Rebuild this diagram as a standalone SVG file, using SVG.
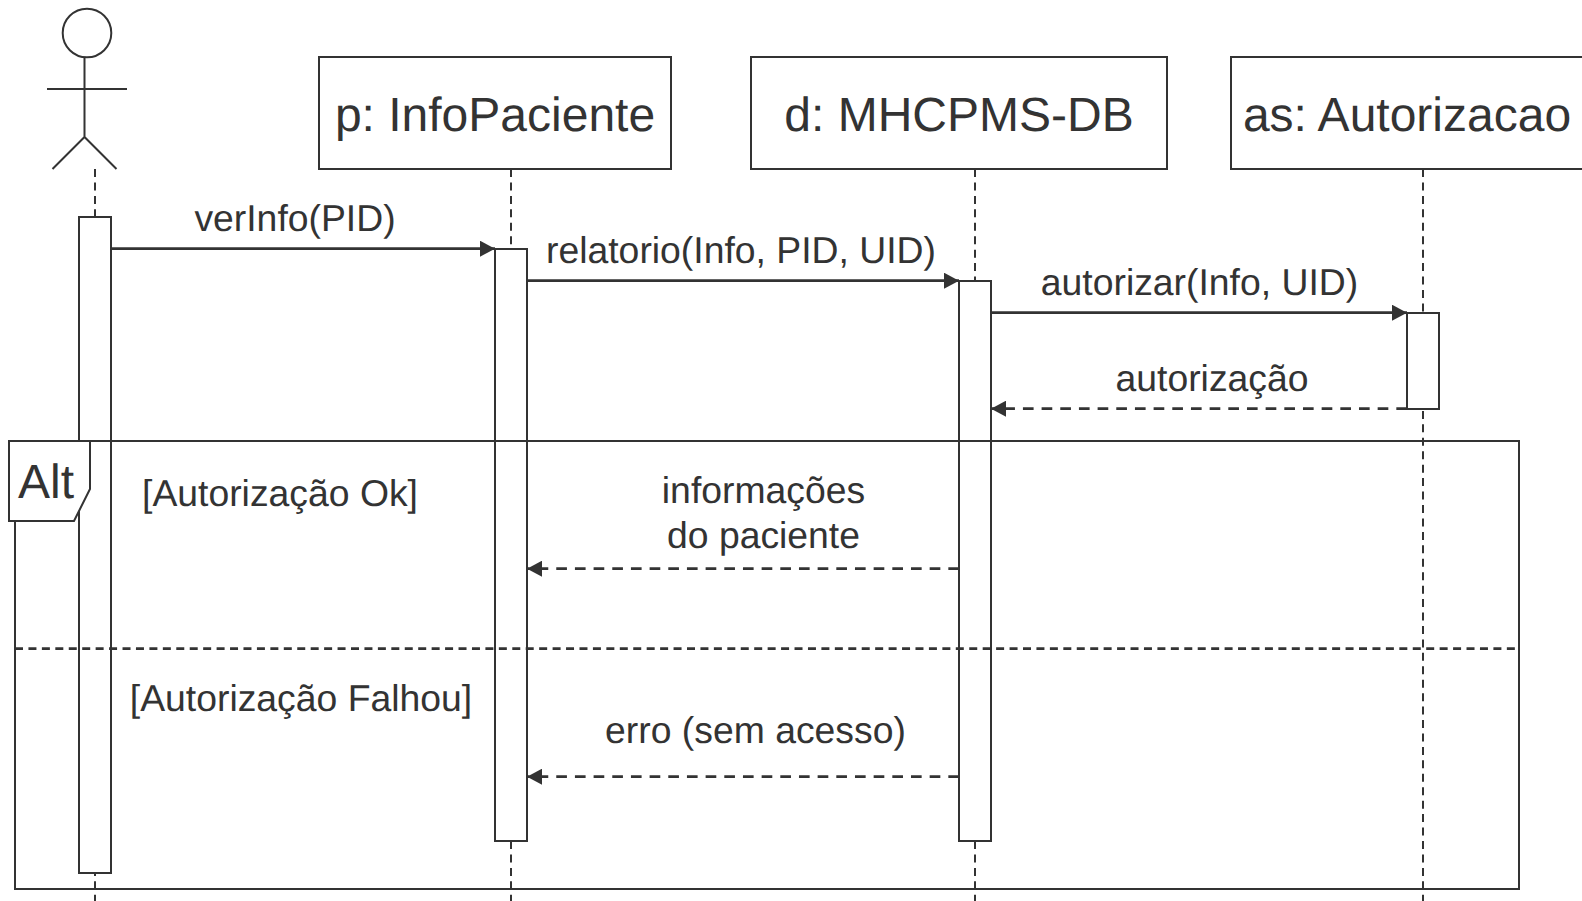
<svg xmlns="http://www.w3.org/2000/svg" width="1582" height="901" viewBox="0 0 1582 901">
<style>
text{font-family:"Liberation Sans",Arial,sans-serif;fill:#333;text-anchor:middle;text-rendering:geometricPrecision}
.h{font-size:48px}.l{font-size:37.33px}.t{font-size:48px}
.b{fill:#fff;stroke:#333;stroke-width:2}
.s{fill:none;stroke:#333;stroke-width:2}
.ll{fill:none;stroke:#333;stroke-width:2;stroke-dasharray:8 5.44}
.fd{fill:none;stroke:#333;stroke-width:2.67;stroke-dasharray:8 5.44}
.m{fill:none;stroke:#333;stroke-width:2.67;marker-end:url(#a)}
.d{fill:none;stroke:#333;stroke-width:2.67;stroke-dasharray:10.67 8;marker-end:url(#a)}
</style>
<defs><marker id="a" markerUnits="userSpaceOnUse" markerWidth="16" markerHeight="16" refX="15" refY="8" orient="auto"><path d="M0 0L15 8L0 16Z" fill="#333"/></marker></defs>
<rect width="1582" height="901" fill="#fff"/>
<g id="lifelines">
<path class="ll" d="M95 169V901"/><path class="ll" d="M511 169V901"/><path class="ll" d="M975 169V901"/><path class="ll" d="M1423 169V901"/>
</g>
<g id="actor"><circle class="b" cx="87" cy="33" r="24.3"/><path class="s" d="M84.5 57V137M47 89H127M52.5 169L84.5 137L116.5 169"/></g>
<g id="p"><rect class="b" x="319" y="57" width="352" height="112"/><text class="h" x="495" y="131">p: InfoPaciente</text></g>
<g id="d"><rect class="b" x="751" y="57" width="416" height="112"/><text class="h" x="959" y="131">d: MHCPMS-DB</text></g>
<g id="as"><rect class="b" x="1231" y="57" width="360" height="112"/><text class="h" x="1407" y="131">as: Autorizacao</text></g>
<g id="act-actor"><rect class="b" x="79" y="217" width="32" height="656"/></g>
<g id="act-p"><rect class="b" x="495" y="249" width="32" height="592"/></g>
<g id="act-d"><rect class="b" x="959" y="281" width="32" height="560"/></g>
<g id="act-as"><rect class="b" x="1407" y="313" width="32" height="96"/></g>
<g id="connectors">
<path class="m" d="M111 248.7H495"/><path class="m" d="M527 280.7H959"/><path class="m" d="M991 312.7H1407"/>
<path class="d" d="M1407 408.7H991"/><path class="d" d="M959 568.7H527"/><path class="d" d="M959 776.7H527"/>
</g>
<g id="alt">
<rect class="s" x="15" y="441" width="1504" height="448"/>
<path class="fd" d="M15 648.7H1515"/>
<path class="b" d="M9 441H90V489L74 521H9Z"/>
<text class="t" x="46" y="498">Alt</text>
<text class="l" x="280" y="506">[Autorização Ok]</text>
<text class="l" x="301" y="711">[Autorização Falhou]</text>
</g>
<g id="labels">
<text class="l" x="295" y="231">verInfo(PID)</text>
<text class="l" x="741" y="263">relatorio(Info, PID, UID)</text>
<text class="l" x="1199.5" y="295">autorizar(Info, UID)</text>
<text class="l" x="1212" y="391">autorização</text>
<text class="l" x="763.5" y="503">informações</text>
<text class="l" x="763.5" y="548">do paciente</text>
<text class="l" x="755.5" y="743">erro (sem acesso)</text>
</g>
</svg>
